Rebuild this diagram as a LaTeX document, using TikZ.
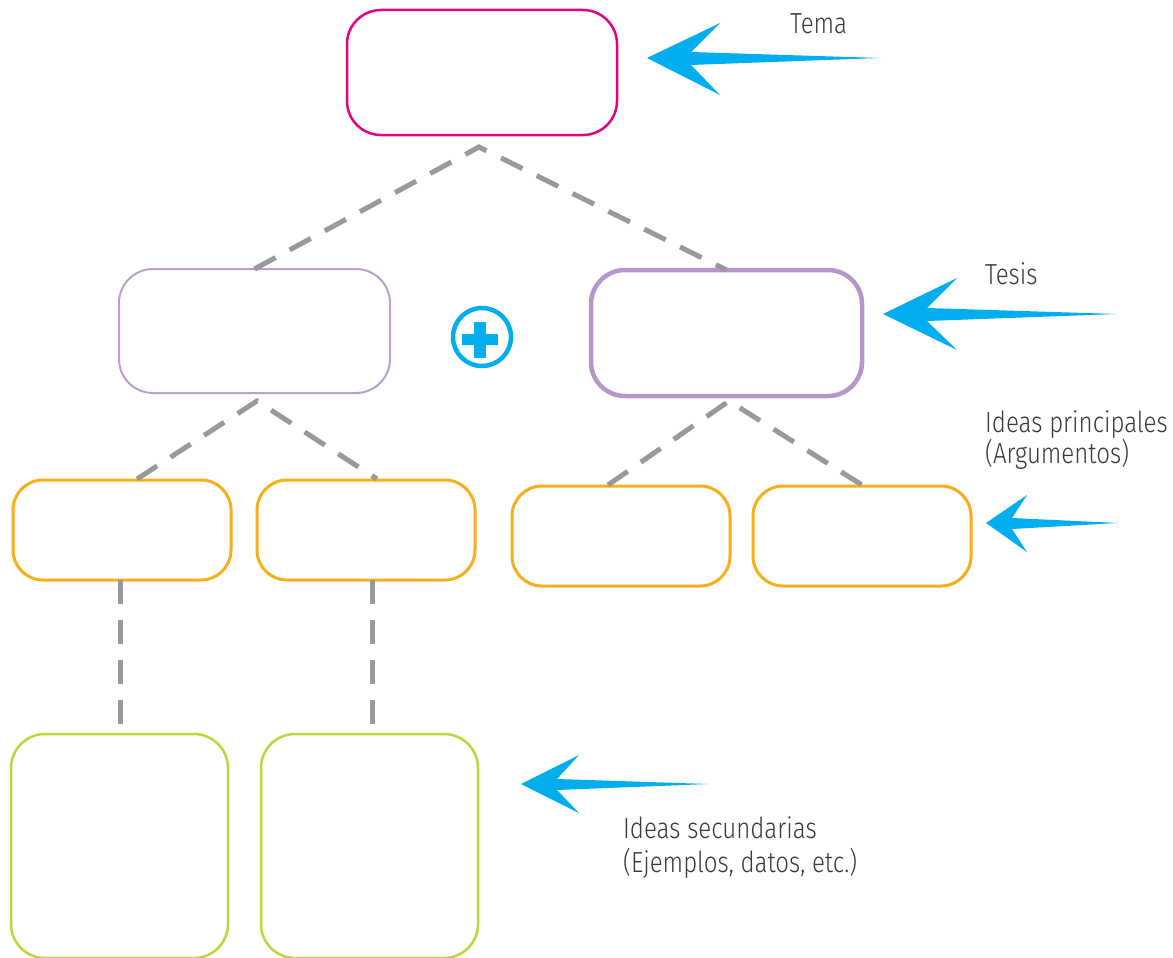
\documentclass[tikz,border=0pt]{standalone}
\usepackage{fontspec}
\setmainfont[FakeStretch=0.83]{Fira Sans Light}
\definecolor{pinkc}{HTML}{E5007D}
\definecolor{lpurple}{HTML}{BBA0CF}
\definecolor{purplec}{HTML}{B598C9}
\definecolor{orangec}{HTML}{F9AE1A}
\definecolor{greenc}{HTML}{BED53B}
\definecolor{cyanc}{HTML}{00AEEF}
\definecolor{grayc}{HTML}{999999}
\definecolor{textc}{HTML}{3A3A3A}
\tikzset{
  box/.style={draw, rounded corners=34pt, inner sep=0pt, outer sep=0pt},
  dashline/.style={draw=grayc, line width=5pt, dash pattern=on 24pt off 16pt},
  lbl/.style={anchor=base west, inner sep=0pt, text=textc, font=\fontsize{29}{32}\selectfont, align=left},
  bluearrow/.style={fill=cyanc, draw=none}
}
\begin{document}
\begin{tikzpicture}[x=1pt,y=-1pt]
\useasboundingbox (0,0) rectangle (1173,958);
\fill[white] (0,0) rectangle (1173,958);
% boxes
\node[box, draw=pinkc, line width=2.5pt, minimum width=270pt, minimum height=125pt] (tema) at (482,72.5) {};
\node[box, draw=lpurple, line width=2pt, minimum width=271pt, minimum height=124pt] (tesisL) at (254.5,331) {};
\node[box, draw=purplec, line width=4.5pt, minimum width=271pt, minimum height=126pt] (tesisR) at (726.5,333) {};
\node[box, rounded corners=30pt, draw=orangec, line width=3pt, minimum width=218pt, minimum height=100pt] (o1) at (122,530) {};
\node[box, rounded corners=30pt, draw=orangec, line width=3pt, minimum width=218pt, minimum height=100pt] (o2) at (366,530) {};
\node[box, rounded corners=30pt, draw=orangec, line width=3pt, minimum width=218pt, minimum height=100pt] (o3) at (621,536) {};
\node[box, rounded corners=30pt, draw=orangec, line width=3pt, minimum width=218pt, minimum height=100pt] (o4) at (862,536) {};
\node[box, draw=greenc, line width=2.5pt, minimum width=217pt, minimum height=224pt] (g1) at (119.5,846) {};
\node[box, draw=greenc, line width=2.5pt, minimum width=217pt, minimum height=224pt] (g2) at (369.5,846) {};
% connector points
\coordinate (apexA) at (479,147);
\coordinate (apexB) at (257,401);
\coordinate (apexC) at (729,401);
\coordinate (e1) at (137,479);
\coordinate (e2) at (377,479);
\coordinate (e3) at (608,485);
\coordinate (e4) at (862,485);
\coordinate (v1) at (120,580);
\coordinate (v2) at (372,580);
\coordinate (w1) at (120,731);
\coordinate (w2) at (372,731);
\draw[dashline] (tesisL.north) -- (apexA) -- (tesisR.north);
\draw[dashline] (e1) -- (apexB) -- (e2);
\draw[dashline] (e3) -- (apexC) -- (e4);
\draw[dashline] (v1) -- (w1);
\draw[dashline] (v2) -- (w2);
% plus sign
\node[draw=cyanc, line width=4.5pt, circle, minimum size=58pt, inner sep=0pt] (plus) at (482,337) {};
\fill[cyanc] (462,334) rectangle (498,345);
\fill[cyanc] (474,322) rectangle (486,358);
% arrows
\fill[bluearrow] (647,58) -- (720,23) -- (691,52) -- (880,58) -- (691,65) -- (720,95) -- cycle;
\fill[bluearrow] (883,314) -- (957,278) -- (927,308) -- (1117,314) -- (927,321) -- (957,350) -- cycle;
\fill[bluearrow] (986,523) -- (1027,495) -- (1012,518) -- (1118,523) -- (1012,529) -- (1027,552) -- cycle;
\fill[bluearrow] (521,784) -- (579,755) -- (557,779) -- (709,784) -- (557,790) -- (579,813) -- cycle;
% labels
\node[lbl] (ltema) at (790,34) {Tema};
\node[lbl] (ltesis) at (985,284) {Tesis};
\node[lbl] (lprin) at (985,432) {Ideas principales};
\node[lbl] (lprin2) at (985,463) {(Argumentos)};
\node[lbl] (lsec) at (623,838) {Ideas secundarias};
\node[lbl] (lsec2) at (623,872) {(Ejemplos, datos, etc.)};
\end{tikzpicture}
\end{document}
